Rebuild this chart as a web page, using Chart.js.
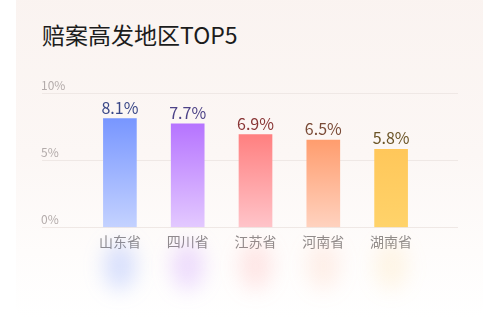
<!DOCTYPE html>
<html>
<head>
<meta charset="utf-8">
<script src="https://cdn.jsdelivr.net/npm/chart.js@4"></script>
<style>
  html, body { margin: 0; padding: 0; background: #fff; }
  #wrap { position: relative; width: 499px; height: 318px; overflow: hidden; }
  #card {
    position: absolute; left: 16px; right: 16px; top: -10px; bottom: 0;
    background: linear-gradient(180deg, #faf3f0 0%, #fcf7f5 50%, #fefcfb 80%, #ffffff 100%);
    border-radius: 12px;
  }
  #title {
    position: absolute; left: 42px; top: 19px;
    font-family: "Noto Sans CJK SC", sans-serif; font-size: 23px; font-weight: 400;
    color: #1c1c1c; line-height: 30px;
  }
  canvas { position: absolute; left: 0; top: 0; }
</style>
</head>
<body>
<div id="wrap">
  <div id="card"></div>
  <div id="title">赔案高发地区TOP5</div>
  <canvas id="myChart" width="499" height="318"></canvas>
</div>
<script>
  const provinces = ["山东省", "四川省", "江苏省", "河南省", "湖南省"];
  const rates = [8.1, 7.7, 6.9, 6.5, 5.8];
  const yTicks = [0, 5, 10];

  const topColors = ["#7896ff", "#b674ff", "#ff8080", "#ff9d6e", "#ffc75a"];
  const bottomColors = ["#c4d2ff", "#e3c9ff", "#ffc4c9", "#ffd2bf", "#ffd36a"];
  const labelColors = ["#3a4888", "#4c4287", "#8a3636", "#7a4b37", "#6b5426"];
  const glowColors = ["rgba(120,150,255,0.28)", "rgba(182,116,255,0.24)", "rgba(255,128,128,0.18)", "rgba(255,157,110,0.14)", "rgba(255,199,90,0.14)"];

  const font = '"Noto Sans CJK SC", sans-serif';

  const decor = {
    id: "decor",
    beforeDatasetsDraw(chart) {
      const { ctx, scales } = chart;
      ctx.save();
      // grid lines and y labels, wider than the bar area
      yTicks.forEach((t) => {
        const y = Math.round(scales.y.getPixelForValue(t)) + 0.5;
        ctx.strokeStyle = "#efe8e5";
        ctx.lineWidth = 1;
        ctx.beginPath();
        ctx.moveTo(42, y);
        ctx.lineTo(458, y);
        ctx.stroke();
        ctx.fillStyle = "#b3abaa";
        ctx.font = "12px " + font;
        ctx.textAlign = "left";
        ctx.textBaseline = "middle";
        ctx.fillText(t + "%", 41, y - 8);
      });
      // soft glow under each bar
      ctx.filter = "blur(10px)";
      provinces.forEach((p, i) => {
        const x = scales.x.getPixelForValue(i);
        ctx.fillStyle = glowColors[i];
        ctx.beginPath();
        ctx.ellipse(x, 266, 16, 24, 0, 0, Math.PI * 2);
        ctx.fill();
      });
      ctx.restore();
    },
    afterDatasetsDraw(chart) {
      const { ctx } = chart;
      const meta = chart.getDatasetMeta(0);
      ctx.save();
      ctx.font = "16px " + font;
      ctx.textAlign = "center";
      ctx.textBaseline = "bottom";
      meta.data.forEach((bar, i) => {
        ctx.fillStyle = labelColors[i];
        ctx.fillText(rates[i] + "%", bar.x, bar.y - 3);
      });
      ctx.restore();
    },
  };

  new Chart(document.getElementById("myChart"), {
    type: "bar",
    plugins: [decor],
    options: {
      responsive: false,
      animation: false,
      layout: { padding: { left: 86, right: 74, top: 93, bottom: 62 } },
      plugins: {
        legend: { display: false },
        tooltip: { enabled: false },
      },
      scales: {
        x: {
          grid: { display: false, drawTicks: false },
          border: { display: false },
          ticks: { color: "#8f8b8b", font: { family: font, size: 14 }, padding: 6 },
        },
        y: { display: false, min: 0, max: 10 },
      },
    },
    data: {
      labels: provinces,
      datasets: [
        {
          label: "赔案占比",
          data: rates,
          barThickness: 33,
          borderWidth: 0,
          backgroundColor: (c) => {
            const chart = c.chart;
            if (!chart.chartArea || c.dataIndex === undefined) return topColors[0];
            const y = chart.scales.y;
            const g = chart.ctx.createLinearGradient(0, y.getPixelForValue(rates[c.dataIndex]), 0, y.getPixelForValue(0));
            g.addColorStop(0, topColors[c.dataIndex]);
            g.addColorStop(1, bottomColors[c.dataIndex]);
            return g;
          },
        },
      ],
    },
  });
</script>
</body>
</html>
